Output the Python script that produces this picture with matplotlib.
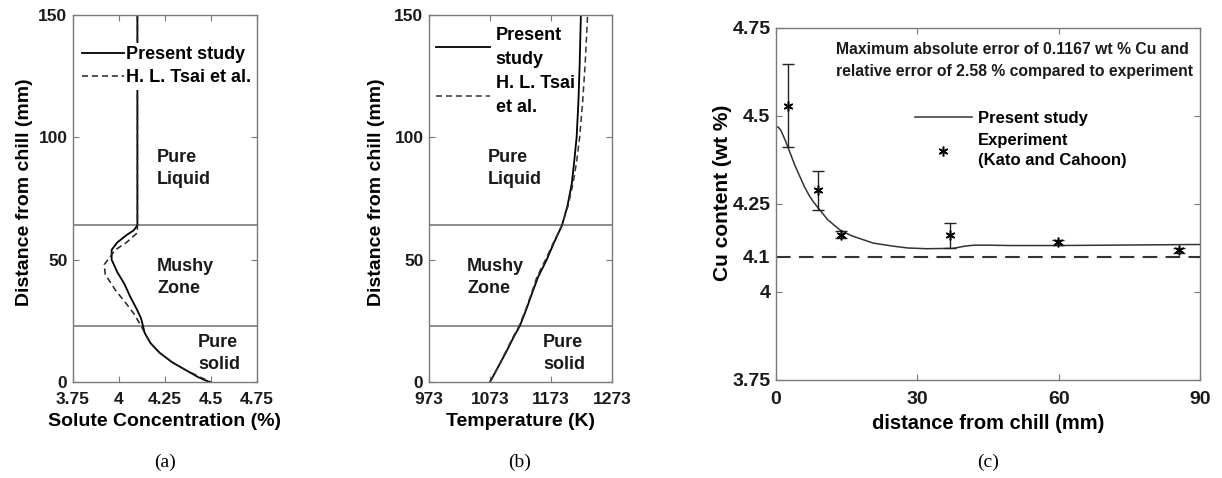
import matplotlib
matplotlib.use("Agg")
import matplotlib.pyplot as plt

plt.rcParams['font.family'] = ['Liberation Sans', 'DejaVu Sans']
plt.rcParams['font.weight'] = 'bold'

# ---------------- data ----------------
# (a) solute concentration vs distance from chill
dist_a = [150, 64, 62, 60, 57, 54, 50, 45, 40, 35, 30, 26, 23, 20, 16, 12, 8, 5, 2, 0]
conc_present = [4.10, 4.10, 4.08, 4.04, 3.99, 3.96, 3.96, 3.99, 4.03, 4.06, 4.095, 4.12,
                4.13, 4.14, 4.17, 4.22, 4.29, 4.36, 4.43, 4.49]
dist_a_tsai = [150, 64, 61, 57, 54, 48, 44, 37.6, 32, 28, 23, 20, 16, 12, 8, 5, 2, 0]
conc_tsai = [4.10, 4.10, 4.10, 4.04, 3.98, 3.92, 3.925, 3.98, 4.04, 4.08, 4.12, 4.14,
             4.17, 4.22, 4.29, 4.36, 4.44, 4.50]

# (b) temperature vs distance from chill
dist_b = [0, 6, 12, 18, 23, 30, 37, 43, 50, 57, 64, 72, 81, 90, 100, 115, 130, 150]
temp_present = [1073, 1086, 1099, 1111, 1122, 1133, 1143, 1152, 1166, 1178, 1191, 1200,
                1207, 1211, 1215, 1218, 1220, 1222]
temp_tsai = [1073, 1086, 1098, 1110, 1121, 1132, 1142, 1150, 1164, 1177, 1191, 1201,
             1209, 1215, 1220, 1225, 1229, 1233]

# zone boundaries (mm)
mushy_top = 64
mushy_bottom = 23

# (c) Cu content vs distance from chill
x_model = [0, 0.5, 1, 1.5, 2, 3, 4, 5, 6, 7, 8, 9.3, 11, 13.6, 16, 20.6, 25, 28, 32,
           37.6, 40, 42, 45, 50, 60, 70, 80, 90]
cu_model = [4.47, 4.468, 4.46, 4.445, 4.43, 4.395, 4.36, 4.33, 4.30, 4.275, 4.255, 4.233,
            4.205, 4.176, 4.16, 4.139, 4.13, 4.125, 4.123, 4.124, 4.13, 4.133, 4.133,
            4.132, 4.132, 4.133, 4.134, 4.135]
x_exp = [2.5, 9.0, 13.8, 36.9, 59.8, 85.6]
cu_exp = [4.528, 4.290, 4.162, 4.162, 4.141, 4.119]
err_lo = [0.115, 0.057, 0.010, 0.038, 0.008, 0.007]
err_hi = [0.119, 0.055, 0.010, 0.033, 0.008, 0.007]
cu_nominal = 4.1

xticks_a = [3.75, 4, 4.25, 4.5, 4.75]
xticks_b = [973, 1073, 1173, 1273]
yticks_ab = [0, 50, 100, 150]
xticks_c = [0, 30, 60, 90]
yticks_c = [3.75, 4, 4.1, 4.25, 4.5, 4.75]

# ---------------- figure ----------------
W, H = 1222, 478
fig = plt.figure(figsize=(W / 100, H / 100), dpi=100)

def px_axes(l, r, t, b):
    return fig.add_axes([l / W, 1 - b / H, (r - l) / W, (b - t) / H])

SPINE = '#7a7a7a'
TXT = '#1a1a1a'

def style(ax, fs, xpad):
    for s in ax.spines.values():
        s.set_color(SPINE)
        s.set_linewidth(1.0)
    ax.tick_params(direction='in', top=True, right=True, length=4, width=0.8,
                   color=SPINE, labelsize=fs, labelcolor=TXT, pad=4)
    ax.tick_params(axis='x', pad=xpad)
    for lab in ax.get_xticklabels() + ax.get_yticklabels():
        lab.set_fontweight('bold')

ax_a = px_axes(73, 257, 15, 382)
ax_b = px_axes(429, 612, 15, 382)
ax_c = px_axes(776, 1200, 28, 380)

tk = dict(fontsize=13, fontweight='bold', color=TXT, ha='left', va='center',
          linespacing=1.4)

# ----- (a) -----
ax_a.plot(conc_present, dist_a, color='black', lw=1.3, label='Present study')
ax_a.plot(conc_tsai, dist_a_tsai, color='#222222', lw=1.1, ls=(0, (4, 2.5)),
          label='H. L. Tsai et al.')
for yb in (mushy_top, mushy_bottom):
    ax_a.axhline(yb, color=SPINE, lw=1.2, zorder=1)
ax_a.set_xlim(3.75, 4.75)
ax_a.set_ylim(0, 150)
ax_a.set_xticks(xticks_a)
ax_a.set_xticklabels(['3.75', '4', '4.25', '4.5', '4.75'])
ax_a.set_yticks(yticks_ab)
style(ax_a, 12.5, 7.5)
ax_a.set_xlabel('Solute Concentration (%)', fontsize=14, fontweight='bold', labelpad=4)
ax_a.set_ylabel('Distance from chill (mm)', fontsize=14, fontweight='bold')
ax_a.yaxis.set_label_coords((33 - 73) / 184, (382 - 192.5) / 367)
ax_a.legend(loc='upper left', bbox_to_anchor=(0.03, 0.925), frameon=True,
            edgecolor='none', facecolor='white', framealpha=1, fancybox=False,
            borderpad=0.2, handlelength=2.3, handletextpad=0.15, labelspacing=0.35,
            borderaxespad=0, prop={'size': 13, 'weight': 'bold'})
ax_a.text((157 - 73) / 184, (382 - 168.5) / 367, 'Pure\nLiquid', transform=ax_a.transAxes, **tk)
ax_a.text((157 - 73) / 184, (382 - 277.5) / 367, 'Mushy\nZone', transform=ax_a.transAxes, **tk)
ax_a.text((198 - 73) / 184, (382 - 353.5) / 367, 'Pure\nsolid', transform=ax_a.transAxes, **tk)

# ----- (b) -----
ax_b.plot(temp_present, dist_b, color='black', lw=1.3, label='Present\nstudy')
ax_b.plot(temp_tsai, dist_b, color='#333333', lw=1.1, ls=(0, (4, 2.5)),
          label='H. L. Tsai\net al.')
for yb in (mushy_top, mushy_bottom):
    ax_b.axhline(yb, color=SPINE, lw=1.2, zorder=1)
ax_b.set_xlim(973, 1273)
ax_b.set_ylim(0, 150)
ax_b.set_xticks(xticks_b)
ax_b.set_yticks(yticks_ab)
style(ax_b, 12.5, 7.5)
ax_b.set_xlabel('Temperature (K)', fontsize=14, fontweight='bold', labelpad=4)
ax_b.set_ylabel('Distance from chill (mm)', fontsize=14, fontweight='bold')
ax_b.yaxis.set_label_coords((385 - 429) / 183, (382 - 192.5) / 367)
leg_b = ax_b.legend(loc='upper left', bbox_to_anchor=(0.02, 0.978), frameon=False,
                    borderpad=0.2, handlelength=3.0, handletextpad=0.3, labelspacing=0.4,
                    borderaxespad=0, prop={'size': 13, 'weight': 'bold'})
for t in leg_b.get_texts():
    t.set_linespacing(1.55)
ax_b.text((488 - 429) / 183, (382 - 168.5) / 367, 'Pure\nLiquid', transform=ax_b.transAxes, **tk)
ax_b.text((467 - 429) / 183, (382 - 277.5) / 367, 'Mushy\nZone', transform=ax_b.transAxes, **tk)
ax_b.text((543 - 429) / 183, (382 - 353.5) / 367, 'Pure\nsolid', transform=ax_b.transAxes, **tk)

# ----- (c) -----
ast = (6, 2, 0)
ax_c.plot(x_model, cu_model, color='#333333', lw=1.1, label='Present study')
ax_c.errorbar(x_exp, cu_exp, yerr=[err_lo, err_hi], fmt='none', ecolor='#222222',
              elinewidth=1.0, capsize=4, capthick=1.0)
ax_c.plot(x_exp, cu_exp, ls='none', marker=ast, ms=7, mew=1.1, color='black',
          label='Experiment\n(Kato and Cahoon)')
ax_c.axhline(cu_nominal, color='#333333', lw=1.5, ls=(0, (7, 4)))
ax_c.set_xlim(0, 90)
ax_c.set_ylim(3.75, 4.75)
ax_c.set_xticks(xticks_c)
ax_c.set_yticks(yticks_c)
ax_c.set_yticklabels(['3.75', '4', '4.1', '4.25', '4.5', '4.75'])
style(ax_c, 14, 8)
ax_c.set_xlabel('distance from chill (mm)', fontsize=14.5, fontweight='bold', labelpad=4)
ax_c.set_ylabel('Cu content (wt %)', fontsize=15, fontweight='bold')
ax_c.yaxis.set_label_coords((732 - 776) / 424, (380 - 193) / 352)
leg_c = ax_c.legend(loc='upper left', bbox_to_anchor=(0.32, 0.775), frameon=False,
                    borderpad=0.2, handlelength=3.4, handletextpad=0.4, labelspacing=0.45,
                    borderaxespad=0, prop={'size': 12, 'weight': 'bold'})
for t in leg_c.get_texts():
    t.set_linespacing(1.45)
ax_c.text((836 - 776) / 424, (380 - 42) / 352,
          'Maximum absolute error of 0.1167 wt % Cu and\n'
          'relative error of 2.58 % compared to experiment',
          transform=ax_c.transAxes, ha='left', va='top', fontsize=11.3,
          fontweight='bold', color=TXT, linespacing=1.55)

# captions
cap = dict(ha='center', va='center', fontsize=14, fontweight='normal',
           family=['Liberation Serif', 'DejaVu Serif'])
fig.text(165 / W, 1 - 462 / H, '(a)', **cap)
fig.text(520 / W, 1 - 462 / H, '(b)', **cap)
fig.text(988 / W, 1 - 462 / H, '(c)', **cap)

fig.savefig('out.png', dpi=100)
